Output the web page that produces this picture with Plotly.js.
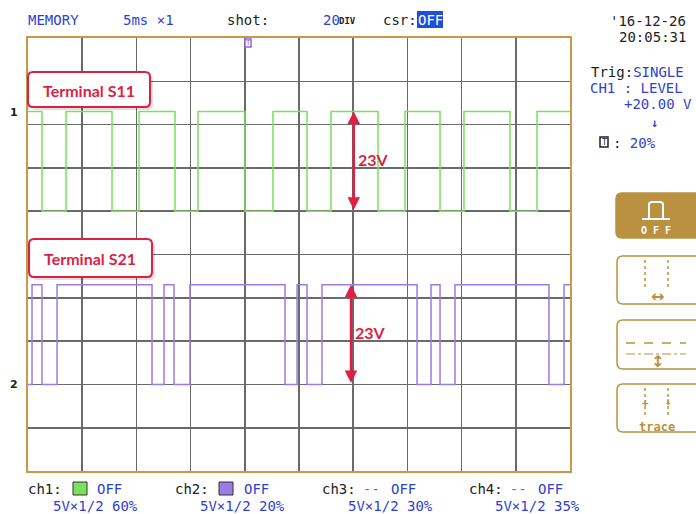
<!DOCTYPE html>
<html>
<head>
<meta charset="utf-8">
<script src="https://cdn.plot.ly/plotly-3.0.1.min.js"></script>
<style>
html,body{margin:0;padding:0;background:#fff;}
#chart{width:696px;height:514px;}
</style>
</head>
<body>
<div id="chart"></div>
<script>
// ---- data (read from the screen capture) ----
// time of each level change, ms from left edge of the 10-division screen (5 ms/div)
const ch1EdgeMs = [0, 1.29, 3.51, 7.75, 10.24, 13.56, 15.68, 20.02, 22.60, 25.74, 27.95, 32.29, 34.78, 38.01, 40.22, 44.46, 46.96, 50];
const ch1LevelV = [23, 0, 23, 0, 23, 0, 23, 0, 23, 0, 23, 0, 23, 0, 23, 0, 23, 23];
const ch2EdgeMs = [0, 0.37, 1.29, 2.68, 11.44, 12.55, 13.47, 14.94, 23.71, 24.82, 25.74, 27.12, 35.89, 37.18, 38.01, 39.39, 48.06, 49.45, 50];
const ch2LevelV = [0, 23, 0, 23, 0, 23, 0, 23, 0, 23, 0, 23, 0, 23, 0, 23, 0, 23, 23];
const channelNames = ["ch1:", "ch2:", "ch3:", "ch4:"];
const channelScales = ["5V×1/2 60%", "5V×1/2 20%", "5V×1/2 30%", "5V×1/2 35%"];
const calloutLabels = ["Terminal S11", "Terminal S21"];
const amplitudeLabel = "23V";

// ---- scale settings ----
const voltsPerDiv = 10;        // 5V x 1/2 display
const ch1ZeroDiv = 6;          // position 60%
const ch2ZeroDiv = 2;          // position 20%
const W = 696, H = 514;
const X0 = 28, X1 = 570, Y0 = 38, Y1 = 471;
const px = x => x / W;
const py = y => 1 - y / H;

const GREEN = '#7be05a', PURPLE = '#9a7ce6', BLUE = '#2f3fd2', BLACK = '#222', RED = '#de1f44', TAN = '#b99141';
const MONO = 'DejaVu Sans Mono';

const traces = [
  {x: ch1EdgeMs, y: ch1LevelV.map(v => ch1ZeroDiv + v / voltsPerDiv), mode: 'lines',
   line: {shape: 'hv', color: GREEN, width: 1.5}, hoverinfo: 'skip'},
  {x: ch2EdgeMs, y: ch2LevelV.map(v => ch2ZeroDiv + v / voltsPerDiv), mode: 'lines',
   line: {shape: 'hv', color: PURPLE, width: 1.5}, hoverinfo: 'skip'}
];

function rrect(x0, y0, x1, y1, r) {
  const a = px(x0), b = px(x1), t = py(y0), u = py(y1);
  const rx = r / W, ry = r / H;
  return `M ${a + rx} ${t} L ${b - rx} ${t} Q ${b} ${t} ${b} ${t - ry} L ${b} ${u + ry} Q ${b} ${u} ${b - rx} ${u} L ${a + rx} ${u} Q ${a} ${u} ${a} ${u + ry} L ${a} ${t - ry} Q ${a} ${t} ${a + rx} ${t} Z`;
}
function pline(x0, y0, x1, y1, color, width, dash) {
  return {type: 'line', xref: 'paper', yref: 'paper', x0: px(x0), y0: py(y0), x1: px(x1), y1: py(y1),
          line: {color: color, width: width, dash: dash || 'solid'}};
}
function prect(x0, y0, x1, y1, fill, color, width) {
  return {type: 'rect', xref: 'paper', yref: 'paper', x0: px(x0), y0: py(y0), x1: px(x1), y1: py(y1),
          fillcolor: fill, line: {color: color, width: width}};
}
function txt(x, y, text, color, size, anchor, family, extra) {
  return Object.assign({xref: 'paper', yref: 'paper', x: px(x), y: py(y), text: text, showarrow: false,
          xanchor: anchor || 'left', yanchor: 'middle', borderpad: 0,
          font: {family: family || MONO, size: size || 14, color: color}}, extra || {});
}

const shapes = [
  // callout boxes (shadow + box)
  {type: 'path', xref: 'paper', yref: 'paper', path: rrect(31, 75, 153, 110, 5), fillcolor: 'rgba(0,0,0,0.12)', line: {width: 0}},
  {type: 'path', xref: 'paper', yref: 'paper', path: rrect(28, 72, 150, 107, 5), fillcolor: '#fff', line: {color: RED, width: 2}},
  {type: 'path', xref: 'paper', yref: 'paper', path: rrect(32, 242, 155, 280, 5), fillcolor: 'rgba(0,0,0,0.12)', line: {width: 0}},
  {type: 'path', xref: 'paper', yref: 'paper', path: rrect(29, 239, 152, 277, 5), fillcolor: '#fff', line: {color: RED, width: 2}},
  // csr OFF highlight
  prect(417, 11, 443, 28, '#1f4de0', '#1f4de0', 0),
  // trigger position marker
  prect(245, 39, 251, 47, '#fff', '#9a5fe0', 1.5),
  // right side buttons
  {type: 'path', xref: 'paper', yref: 'paper', path: rrect(616, 193, 710, 238, 6), fillcolor: TAN, line: {color: TAN, width: 1.5}},
  {type: 'path', xref: 'paper', yref: 'paper', path: rrect(617, 256, 710, 304, 6), fillcolor: '#fff', line: {color: TAN, width: 1.5}},
  {type: 'path', xref: 'paper', yref: 'paper', path: rrect(617, 320, 710, 369, 6), fillcolor: '#fff', line: {color: TAN, width: 1.5}},
  {type: 'path', xref: 'paper', yref: 'paper', path: rrect(617, 384, 710, 432, 6), fillcolor: '#fff', line: {color: TAN, width: 1.5}},
  // button 1 icon
  {type: 'path', xref: 'paper', yref: 'paper', path: `M ${px(649)} ${py(218)} L ${px(649)} ${py(205)} Q ${px(649)} ${py(202)} ${px(652)} ${py(202)} L ${px(660)} ${py(202)} Q ${px(663)} ${py(202)} ${px(663)} ${py(205)} L ${px(663)} ${py(218)}`, line: {color: '#fff', width: 2}},
  pline(642, 219, 670, 219, '#fff', 2),
  // button 2 icon
  pline(645, 260, 645, 290, TAN, 1.5, 'dot'),
  pline(668, 260, 668, 290, TAN, 1.5, 'dot'),
  // button 3 icon
  pline(626, 343, 686, 343, TAN, 1.5, 'dash'),
  pline(626, 354, 686, 354, TAN, 1.2, 'dashdot'),
  // button 4 icon
  pline(645, 388, 645, 418, TAN, 1.5, 'dot'),
  pline(668, 388, 668, 418, TAN, 1.5, 'dot'),
  // legend colour boxes
  prect(73, 482, 87, 495, GREEN, '#333', 1),
  prect(219, 482, 233, 495, PURPLE, '#333', 1),
  // trigger icon
  prect(600, 137, 608, 147, '#fff', '#222', 1.5)
];

const boldLato = {family: 'Lato', size: 16, color: RED, weight: 'bold'};
const annotations = [
  // top row
  txt(27, 20, 'MEMORY', BLUE, 14),
  txt(122, 20, '5ms ×1', BLUE, 14),
  txt(226, 20, 'shot:', BLACK, 14),
  txt(322, 20, '20', BLUE, 14),
  txt(338, 21, 'DIV', BLACK, 9, 'left', MONO, {font: {family: MONO, size: 9, color: BLACK, weight: 'bold'}}),
  txt(382, 20, 'csr:', BLACK, 14),
  txt(417, 20, 'OFF', '#fff', 14),
  // top right
  txt(687, 21, "'16-12-26", BLACK, 14, 'right'),
  txt(687, 37, '20:05:31', BLACK, 14, 'right'),
  txt(590, 72, 'Trig:<span style="color:' + BLUE + '">SINGLE</span>', BLACK, 14),
  txt(589, 88, 'CH1 : LEVEL', BLUE, 14),
  txt(693, 104, '+20.00 V', BLUE, 14, 'right'),
  txt(654, 123, '↓', BLUE, 12, 'center', MONO, {font: {family: MONO, size: 12, color: BLUE, weight: 'bold'}}),
  txt(604, 142, 'T', BLACK, 8, 'center'),
  txt(612, 143, ': <span style="color:' + BLUE + '">20%</span>', BLACK, 14),
  // channel markers
  txt(14, 112, '1', BLACK, 11, 'center', 'DejaVu Sans', {font: {family: 'DejaVu Sans', size: 11, color: BLACK, weight: 'bold'}}),
  txt(14, 384, '2', BLACK, 11, 'center', 'DejaVu Sans', {font: {family: 'DejaVu Sans', size: 11, color: BLACK, weight: 'bold'}}),
  txt(248, 43, 'T', '#9a5fe0', 7, 'center'),
  // callouts
  txt(89, 90, calloutLabels[0], RED, 16, 'center', 'Lato', {font: boldLato}),
  txt(90, 258, calloutLabels[1], RED, 16, 'center', 'Lato', {font: boldLato}),
  txt(357, 159, amplitudeLabel, RED, 16, 'left', 'Lato', {font: boldLato}),
  txt(354, 332, amplitudeLabel, RED, 16, 'left', 'Lato', {font: boldLato}),
  // amplitude arrows (data coordinates)
  {xref: 'x', yref: 'y', axref: 'x', ayref: 'y', x: 30.05, y: ch1ZeroDiv + 23 / voltsPerDiv, ax: 30.05, ay: ch1ZeroDiv,
   text: '', showarrow: true, arrowhead: 2, startarrowhead: 2, arrowside: 'end+start', arrowwidth: 2.5, arrowsize: 1, startarrowsize: 1, arrowcolor: RED, standoff: 0, startstandoff: 0},
  {xref: 'x', yref: 'y', axref: 'x', ayref: 'y', x: 29.8, y: ch2ZeroDiv + 23 / voltsPerDiv, ax: 29.8, ay: ch2ZeroDiv,
   text: '', showarrow: true, arrowhead: 2, startarrowhead: 2, arrowside: 'end+start', arrowwidth: 2.5, arrowsize: 1, startarrowsize: 1, arrowcolor: RED, standoff: 0, startstandoff: 0},
  // buttons text
  txt(656, 231, 'O F F', '#fff', 11, 'center', MONO, {font: {family: MONO, size: 10, color: '#fff', weight: 'bold'}}),
  txt(657, 296, '↔', TAN, 16, 'center', 'DejaVu Sans', {font: {family: 'DejaVu Sans', size: 16, color: TAN, weight: 'bold'}}),
  txt(657, 361, '↕', TAN, 16, 'center', 'DejaVu Sans', {font: {family: 'DejaVu Sans', size: 16, color: TAN, weight: 'bold'}}),
  txt(657, 427, 'trace', TAN, 12, 'center', MONO, {font: {family: MONO, size: 12, color: TAN, weight: 'bold'}}),
  txt(645, 402, '+', TAN, 11, 'center', MONO, {font: {family: MONO, size: 11, color: TAN, weight: 'bold'}}),
  txt(668, 401, '↓', TAN, 11, 'center', MONO, {font: {family: MONO, size: 11, color: TAN, weight: 'bold'}}),
];

// bottom channel legend
const legendX = [27, 174, 321, 468];
const scaleX = [52, 199, 347, 494];
channelNames.forEach((n, i) => {
  annotations.push(txt(legendX[i], 489, n, BLACK, 14));
  if (i >= 2) annotations.push(txt(legendX[i] + 41, 489, '--', '#ee4433', 14));
  annotations.push(txt(legendX[i] + 69, 489, 'OFF', BLUE, 14));
  annotations.push(txt(scaleX[i], 506, channelScales[i], BLUE, 14));
});

const axisCommon = {showticklabels: false, ticks: '', showgrid: true, gridcolor: '#6a6a6a', gridwidth: 1.6,
  zeroline: false, showline: true, mirror: true, linecolor: '#c99a45', linewidth: 2, fixedrange: true};

const layout = {
  width: W, height: H, margin: {l: 0, r: 0, t: 0, b: 0},
  paper_bgcolor: '#fff', plot_bgcolor: '#fff', showlegend: false,
  xaxis: Object.assign({}, axisCommon, {domain: [px(X0), px(X1)], range: [0, 50], dtick: 5, tick0: 0}),
  yaxis: Object.assign({}, axisCommon, {domain: [py(Y1), py(Y0)], range: [0, 10], dtick: 1, tick0: 0}),
  shapes: shapes, annotations: annotations
};

Plotly.newPlot('chart', traces, layout, {displayModeBar: false, staticPlot: true});
</script>
</body>
</html>
